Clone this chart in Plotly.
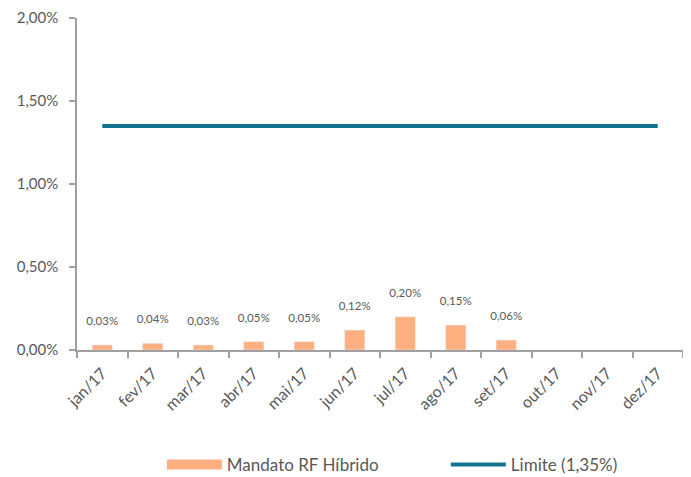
import plotly.graph_objects as go

categories = ["jan/17", "fev/17", "mar/17", "abr/17", "mai/17", "jun/17",
              "jul/17", "ago/17", "set/17", "out/17", "nov/17", "dez/17"]
mandato_pct = [0.03, 0.04, 0.03, 0.05, 0.05, 0.12, 0.20, 0.15, 0.06, None, None, None]
limite_pct = [1.35] * 12
ytick_vals_pct = [0, 0.5, 1.0, 1.5, 2.0]

mandato = [v / 100 if v is not None else None for v in mandato_pct]
limite = [v / 100 for v in limite_pct]
ytick_vals = [v / 100 for v in ytick_vals_pct]

BAR_COLOR = "#FFAF80"
LINE_COLOR = "#12758F"
GRAY = "#595959"
AXIS = "#A0A0A0"
FONT = "Lato, Carlito, Calibri, sans-serif"

fig = go.Figure()
fig.add_trace(go.Bar(
    x=categories, y=mandato, marker_color=BAR_COLOR, showlegend=False,
    texttemplate="%{y:.2%}<br> ", textposition="outside", constraintext="none",
    textfont=dict(size=11.5, color=GRAY), cliponaxis=False,
))
fig.add_trace(go.Scatter(
    x=categories, y=limite, mode="lines", showlegend=False,
    line=dict(color=LINE_COLOR, width=4),
))
# legend entries
fig.add_trace(go.Scatter(
    x=[None], y=[None], mode="lines", name="Mandato RF Híbrido",
    line=dict(color=BAR_COLOR, width=12),
))
fig.add_trace(go.Scatter(
    x=[None], y=[None], mode="lines", name="Limite (1,35%)",
    line=dict(color=LINE_COLOR, width=4),
))

fig.update_layout(
    width=691, height=477,
    margin=dict(l=69, r=16, t=10, b=135, autoexpand=False),
    paper_bgcolor="white", plot_bgcolor="white",
    separators=",.",
    font=dict(family=FONT, color=GRAY, size=14),
    bargap=0.6,
    legend=dict(orientation="h", x=0.14, xanchor="left", y=-0.346, yanchor="middle",
                itemwidth=55, entrywidth=214, font=dict(size=17, color=GRAY)),
    xaxis=dict(showline=True, linecolor=AXIS, linewidth=1.5, ticks="outside",
               tickson="boundaries", ticklen=6, tickcolor=AXIS, tickwidth=1.5,
               tickangle=-45, showgrid=False, automargin=False,
               ticklabelstandoff=6,
               tickfont=dict(size=16, color=GRAY)),
    yaxis=dict(range=[0, 0.02], tickvals=ytick_vals, tickformat=".2%",
               showline=True, linecolor=AXIS, linewidth=1.5, ticks="outside",
               ticklen=6, tickcolor=AXIS, tickwidth=1.5, showgrid=False,
               zeroline=False, ticklabelstandoff=8, automargin=False,
               tickfont=dict(size=15, color=GRAY)),
)

fig.write_html("out.html")
